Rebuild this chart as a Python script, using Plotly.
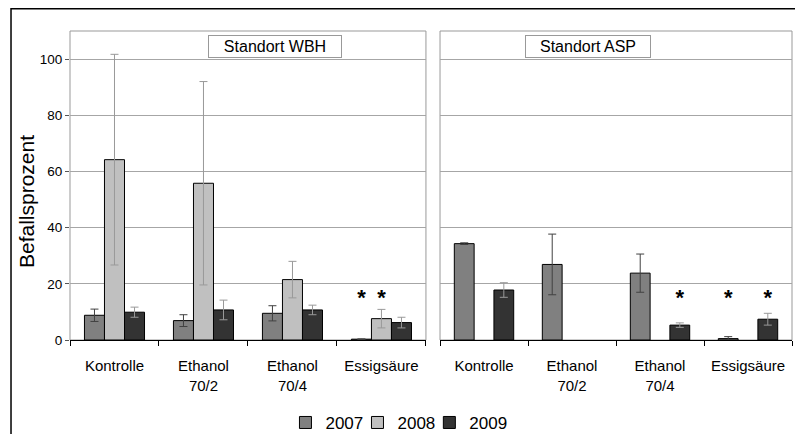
"""Befallsprozent an den Standorten WBH und ASP, 2007-2009."""

import plotly.graph_objects as go

categories = ["Kontrolle", "Ethanol<br>70/2", "Ethanol<br>70/4", "Essigsäure"]
years = ["2007", "2008", "2009"]

wbh_2007 = [8.8, 6.9, 9.5, 0.3]
wbh_2007_err = [2.2, 2.1, 2.7, 0.1]
wbh_2008 = [64.2, 55.8, 21.5, 7.6]
wbh_2008_err = [37.5, 36.2, 6.5, 3.3]
wbh_2009 = [9.9, 10.7, 10.7, 6.2]
wbh_2009_err = [1.8, 3.5, 1.7, 1.9]

asp_2007 = [34.3, 26.9, 23.8, 0.5]
asp_2007_err = [0.3, 10.8, 6.8, 0.7]
asp_2008 = [None, None, None, None]
asp_2008_err = [None, None, None, None]
asp_2009 = [17.8, None, 5.3, 7.4]
asp_2009_err = [2.6, None, 0.8, 2.1]

# significance stars: (category index, year index)
wbh_stars = [(3, 0), (3, 1)]
asp_stars = [(2, 2), (3, 0), (3, 2)]
star_level = 14.5

bar_colors = {"2007": "#808080", "2008": "#c0c0c0", "2009": "#333333"}
err_colors = {"2007": "#404040", "2008": "#999999", "2009": "#999999"}
legend_ids = {"2007": "legend", "2008": "legend2", "2009": "legend3"}
legend_x = {"2007": 0.349, "2008": 0.4396, "2009": 0.530}
FONT = "Liberation Sans, Arial, sans-serif"
BAR_W = 0.225

panels = [
    ("x", "y", [wbh_2007, wbh_2008, wbh_2009], [wbh_2007_err, wbh_2008_err, wbh_2009_err], wbh_stars),
    ("x2", "y2", [asp_2007, asp_2008, asp_2009], [asp_2007_err, asp_2008_err, asp_2009_err], asp_stars),
]

fig = go.Figure()
for p, (xa, ya, series, errors, stars) in enumerate(panels):
    for k, year in enumerate(years):
        offset = (k - 1) * BAR_W
        fig.add_trace(go.Bar(
            x=[i + offset for i in range(len(categories))],
            y=series[k],
            width=BAR_W,
            name=year,
            legendgroup=year,
            legend=legend_ids[year],
            showlegend=(p == 0),
            xaxis=xa, yaxis=ya,
            marker=dict(color=bar_colors[year], line=dict(color="black", width=1)),
            error_y=dict(type="data", array=errors[k], color=err_colors[year], thickness=1, width=4),
        ))
    fig.add_trace(go.Scatter(
        x=[c + (k - 1) * BAR_W for c, k in stars],
        y=[star_level] * len(stars),
        mode="text",
        text=["<b>*</b>"] * len(stars),
        textfont=dict(family=FONT, size=22, color="black"),
        showlegend=False, hoverinfo="skip",
        xaxis=xa, yaxis=ya,
    ))

xaxis_common = dict(
    range=[-0.5, 3.5],
    tickmode="array",
    tickvals=list(range(len(categories))),
    ticktext=categories,
    ticks="",
    ticklabelstandoff=12,
    showgrid=False,
    zeroline=False,
    automargin=False,
    showline=True, linecolor="black", linewidth=1,
    tickfont=dict(family=FONT, size=15, color="black"),
    minor=dict(tickmode="array", tickvals=[-0.5, 0.5, 1.5, 2.5, 3.5], ticks="outside",
               ticklen=5, tickcolor="black", showgrid=False),
)
yaxis_common = dict(
    range=[0, 110],
    tickvals=[0, 20, 40, 60, 80, 100],
    showgrid=True, gridcolor="#a6a6a6", gridwidth=1,
    zeroline=False,
    showline=False,
    automargin=False,
)


def legend_box(year):
    return dict(
        orientation="h", xref="container", yref="container",
        x=legend_x[year], xanchor="left", y=0.026, yanchor="middle",
        font=dict(family=FONT, size=17, color="black"),
        itemwidth=30, bgcolor="rgba(0,0,0,0)",
    )


# the page body adds 8px, so the figure is drawn 8px smaller and shifted
fig.update_layout(
    width=795, height=426,
    paper_bgcolor="white", plot_bgcolor="white",
    margin=dict(l=62, r=11, t=23, b=94),
    font=dict(family=FONT, color="black"),
    barmode="overlay",
    xaxis=dict(domain=[0, 0.493], **xaxis_common),
    xaxis2=dict(domain=[0.5125, 1], **xaxis_common),
    yaxis=dict(
        **yaxis_common,
        ticks="outside", ticklen=4, tickcolor="#555555",
        tickfont=dict(family=FONT, size=13.5, color="black"),
    ),
    yaxis2=dict(**yaxis_common, anchor="x2", matches="y", showticklabels=False, ticks=""),
    legend=legend_box("2007"),
    legend2=legend_box("2008"),
    legend3=legend_box("2009"),
    showlegend=True,
)

# y axis title, a little below the middle of the plot as in the source
fig.add_annotation(
    text="Befallsprozent", textangle=-90, xref="paper", yref="paper",
    x=-0.0609, y=0.4466, xanchor="center", yanchor="middle", showarrow=False,
    font=dict(family=FONT, size=21, color="black"),
)

# panel frames (grey) and outer chart border
for xd, yd in [("x domain", "y domain"), ("x2 domain", "y2 domain")]:
    fig.add_shape(type="rect", xref=xd, yref=yd, x0=0, x1=1, y0=0, y1=1,
                  line=dict(color="#999999", width=1), layer="below")
fig.add_shape(type="rect", xref="paper", yref="paper", x0=-0.0817, x1=1.2, y0=-0.5, y1=1.072,
              line=dict(color="black", width=1.5))

# panel titles
for label, xc, w in [("Standort WBH", 0.2846, 130), ("Standort ASP", 0.7168, 122)]:
    fig.add_annotation(
        text=label, xref="paper", yref="paper", x=xc, y=0.951,
        xanchor="center", yanchor="middle",
        showarrow=False, width=w, height=19,
        bordercolor="#999999", borderwidth=1, borderpad=1, bgcolor="white",
        font=dict(family=FONT, size=16, color="black"),
    )

fig.write_html("out.html")
